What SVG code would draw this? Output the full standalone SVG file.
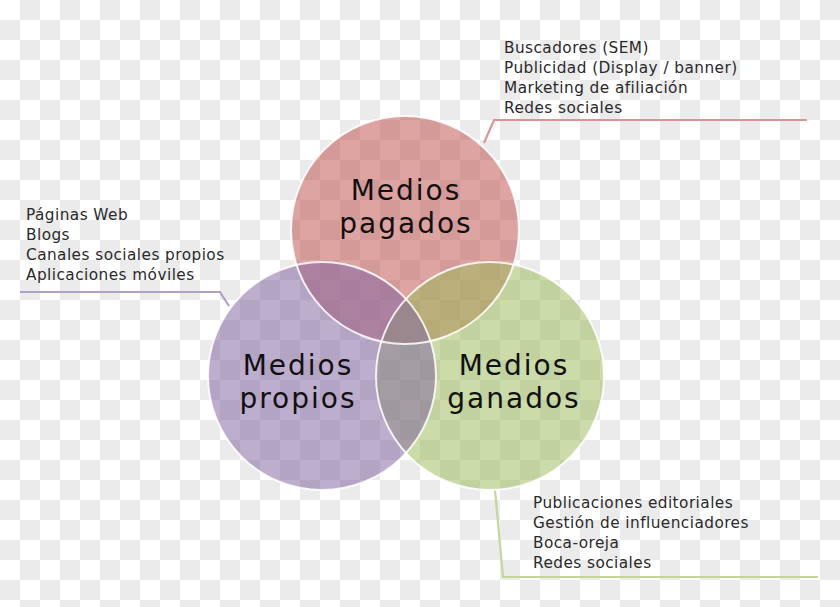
<svg xmlns="http://www.w3.org/2000/svg" width="840" height="607" viewBox="0 0 840 607">
<defs>
<pattern id="checker" x="0" y="0" width="40" height="40" patternUnits="userSpaceOnUse">
<rect width="40" height="40" fill="#ffffff"/>
<rect x="20" y="0" width="20" height="20" fill="#ebebeb"/>
<rect x="0" y="20" width="20" height="20" fill="#ebebeb"/>
</pattern>
</defs>
<style>
.circ { stroke: #ffffff; stroke-width: 2; stroke-opacity: 0.85; }
.fill { fill-opacity: 0.52; stroke: none; }
.label { font-family: "DejaVu Sans", "Open Sans", sans-serif; font-size: 28px; letter-spacing: 2px; fill: #111111; text-anchor: middle; }
.list { font-family: "DejaVu Sans", "Open Sans", sans-serif; font-size: 15.3px; letter-spacing: 0.45px; fill: #2a2a2a; }
.conn { fill: none; stroke-width: 2.2; }
</style>
<rect width="840" height="607" fill="url(#checker)"/>
<g id="connectors">
<polyline class="conn" points="484,143 494,120 807,120" stroke="#d99594"/>
<polyline class="conn" points="20,292 220,292 229,306" stroke="#b2a1c7"/>
<polyline class="conn" points="495,490 503,577 818,577" stroke="#c3d69b"/>
</g>
<g id="medios-pagados">
<circle class="fill" cx="405" cy="230" r="114" fill="#c0504d"/>
</g>
<g id="medios-ganados">
<circle class="fill" cx="490" cy="376" r="114" fill="#9bbb59"/>
</g>
<g id="medios-propios">
<circle class="fill" cx="322" cy="376" r="114" fill="#8064a2"/>
</g>
<g id="outlines">
<circle class="circ" cx="405" cy="230" r="114" fill="none"/>
<circle class="circ" cx="490" cy="376" r="114" fill="none"/>
<circle class="circ" cx="322" cy="376" r="114" fill="none"/>
</g>
<g id="labels">
<text class="label" x="406" y="200">Medios</text>
<text class="label" x="406" y="233">pagados</text>
<text class="label" x="298" y="375">Medios</text>
<text class="label" x="298" y="408">propios</text>
<text class="label" x="514" y="375">Medios</text>
<text class="label" x="514" y="408">ganados</text>
</g>
<g id="list-pagados">
<text class="list" x="504" y="53">Buscadores (SEM)</text>
<text class="list" x="504" y="73">Publicidad (Display / banner)</text>
<text class="list" x="504" y="93">Marketing de afiliación</text>
<text class="list" x="504" y="113">Redes sociales</text>
</g>
<g id="list-propios">
<text class="list" x="26" y="220">Páginas Web</text>
<text class="list" x="26" y="240">Blogs</text>
<text class="list" x="26" y="260">Canales sociales propios</text>
<text class="list" x="26" y="280">Aplicaciones móviles</text>
</g>
<g id="list-ganados">
<text class="list" x="533" y="508">Publicaciones editoriales</text>
<text class="list" x="533" y="528">Gestión de influenciadores</text>
<text class="list" x="533" y="548">Boca-oreja</text>
<text class="list" x="533" y="568">Redes sociales</text>
</g>
</svg>
